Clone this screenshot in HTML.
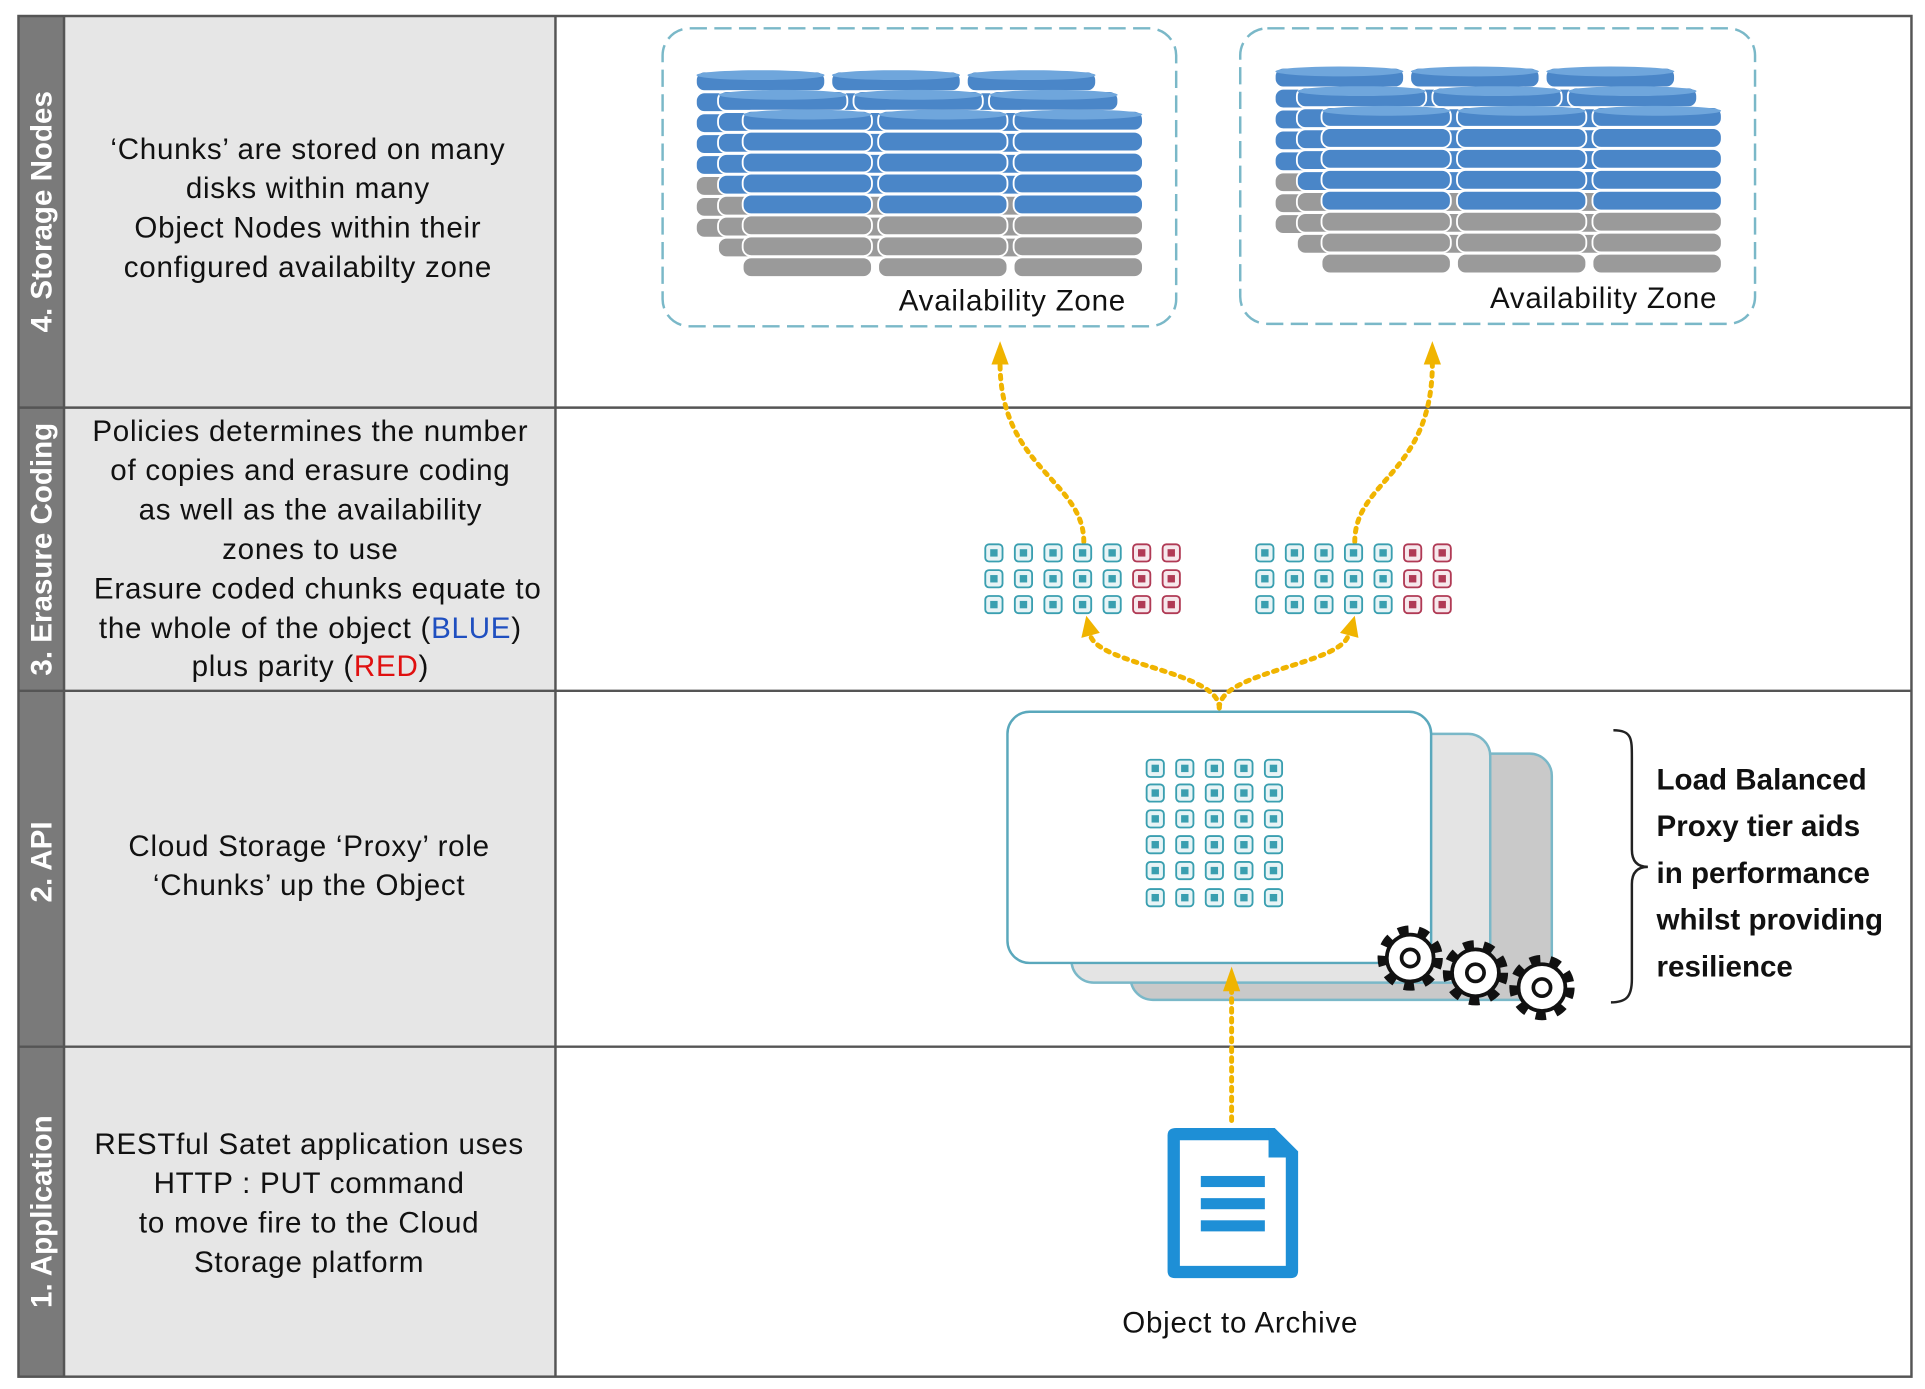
<!DOCTYPE html>
<html><head><meta charset="utf-8"><style>
html,body{margin:0;padding:0;background:#fff;}
svg{display:block;}
text{font-family:"Liberation Sans",Arial,sans-serif;}
</style></head><body>
<svg width="1925" height="1389" viewBox="0 0 1563 1128" preserveAspectRatio="none" xmlns="http://www.w3.org/2000/svg">
<defs>
<g id="stk" stroke="#fff" stroke-width="1.5">
 <rect x="0" y="0" width="105" height="16" rx="7" fill="#4a86c8"/>
 <rect x="0" y="17" width="105" height="16" rx="7" fill="#4a86c8"/>
 <rect x="0" y="34" width="105" height="16" rx="7" fill="#4a86c8"/>
 <rect x="0" y="51" width="105" height="16" rx="7" fill="#4a86c8"/>
 <rect x="0" y="68" width="105" height="16" rx="7" fill="#4a86c8"/>
 <rect x="0" y="85" width="105" height="16" rx="7" fill="#9a9a9a"/>
 <rect x="0" y="102" width="105" height="16" rx="7" fill="#9a9a9a"/>
 <rect x="0" y="119" width="105" height="16" rx="7" fill="#9a9a9a"/>
 <ellipse cx="52.5" cy="3" rx="52" ry="4" fill="#6fa6dc" stroke="none"/>
</g>
<g id="cb"><rect x="0" y="0" width="14" height="14" rx="3" fill="#e8f4f6" stroke="#3a9fb0" stroke-width="1.5"/><rect x="4" y="4" width="6" height="6" fill="#3a9fb0"/></g>
<g id="cr"><rect x="0" y="0" width="14" height="14" rx="3" fill="#f6e8ec" stroke="#b03a55" stroke-width="1.5"/><rect x="4" y="4" width="6" height="6" fill="#b03a55"/></g>
<g id="gear"><circle r="22" fill="none" stroke="#111" stroke-width="9" stroke-dasharray="8 7.7"/><circle r="19" fill="#fff" stroke="#111" stroke-width="3"/><circle r="7" fill="#fff" stroke="#111" stroke-width="3"/></g>
<g id="crow"><use href="#cb" x="0"/><use href="#cb" x="24"/><use href="#cb" x="48"/><use href="#cb" x="72"/><use href="#cb" x="96"/><use href="#cr" x="120"/><use href="#cr" x="144"/></g>
<g id="prow"><use href="#cb" x="0"/><use href="#cb" x="24"/><use href="#cb" x="48"/><use href="#cb" x="72"/><use href="#cb" x="96"/></g>
</defs>
<rect x="15" y="13" width="37" height="1105" fill="#7a7a7a"/>
<rect x="52" y="13" width="399" height="1105" fill="#e6e6e6"/>
<rect x="15" y="13" width="1537" height="1105" fill="none" stroke="#555" stroke-width="2"/>
<line x1="451" y1="13" x2="451" y2="1118" stroke="#555" stroke-width="2"/>
<line x1="52" y1="13" x2="52" y2="1118" stroke="#555" stroke-width="2"/>
<g stroke="#555" stroke-width="2"><line x1="15" y1="331" x2="1552" y2="331"/><line x1="15" y1="561" x2="1552" y2="561"/><line x1="15" y1="850" x2="1552" y2="850"/></g>
<g fill="#fff" font-weight="bold" font-size="24" text-anchor="middle">
<text transform="translate(42,172) rotate(-90)">4. Storage Nodes</text>
<text transform="translate(42,446) rotate(-90)">3. Erasure Coding</text>
<text transform="translate(42,700) rotate(-90)">2. API</text>
<text transform="translate(42,984) rotate(-90)">1. Application</text>
</g>
<g font-size="24" fill="#111" text-anchor="middle" letter-spacing="0.6">
<text x="250" y="129">‘Chunks’ are stored on many</text>
<text x="250" y="161">disks within many</text>
<text x="250" y="193">Object Nodes within their</text>
<text x="250" y="225">configured availabilty zone</text>
<text x="252" y="358">Policies determines the number</text>
<text x="252" y="390">of copies and erasure coding</text>
<text x="252" y="422">as well as the availability</text>
<text x="252" y="454">zones to use</text>
<text x="258" y="486">Erasure coded chunks equate to</text>
<text x="252" y="518">the whole of the object (<tspan fill="#1f4fc0">BLUE</tspan>)</text>
<text x="252" y="549">plus parity (<tspan fill="#e01010">RED</tspan>)</text>
<text x="251" y="695">Cloud Storage ‘Proxy’ role</text>
<text x="251" y="727">‘Chunks’ up the Object</text>
<text x="251" y="937">RESTful Satet application uses</text>
<text x="251" y="969">HTTP : PUT command</text>
<text x="251" y="1001">to move fire to the Cloud</text>
<text x="251" y="1033">Storage platform</text>
</g>
<rect x="538" y="23" width="417" height="242" rx="22" fill="none" stroke="#7ab8c8" stroke-width="2" stroke-dasharray="14 6"/>
<rect x="1007" y="23" width="418" height="240" rx="22" fill="none" stroke="#7ab8c8" stroke-width="2" stroke-dasharray="14 6"/>
<use href="#stk" x="565" y="58"/><use href="#stk" x="675" y="58"/><use href="#stk" x="785" y="58"/>
<use href="#stk" x="583" y="74"/><use href="#stk" x="693" y="74"/><use href="#stk" x="803" y="74"/>
<use href="#stk" x="603" y="90"/><use href="#stk" x="713" y="90"/><use href="#stk" x="823" y="90"/>
<use href="#stk" x="1035" y="55"/><use href="#stk" x="1145" y="55"/><use href="#stk" x="1255" y="55"/>
<use href="#stk" x="1053" y="71"/><use href="#stk" x="1163" y="71"/><use href="#stk" x="1273" y="71"/>
<use href="#stk" x="1073" y="87"/><use href="#stk" x="1183" y="87"/><use href="#stk" x="1293" y="87"/>
<g font-size="24" fill="#111" text-anchor="middle" letter-spacing="0.6">
<text x="822" y="252">Availability Zone</text>
<text x="1302" y="250">Availability Zone</text>
<text x="1007" y="1082">Object to Archive</text>
</g>
<g fill="none" stroke="#f0b400" stroke-width="4" stroke-dasharray="3 5" stroke-linecap="round">
<path d="M880,440 C880,390 812,380 812,295"/>
<path d="M1100,440 C1100,390 1163,385 1163,295"/>
<path d="M990,575 C990,545 890,540 885,515"/>
<path d="M990,575 C990,545 1090,540 1095,515"/>
</g>
<g fill="#f0b400">
<polygon points="812,277 805,296 819,296"/>
<polygon points="1163,277 1156,296 1170,296"/>
<polygon points="882,500 878,518 893,514"/>
<polygon points="1100,500 1088,514 1103,518"/>
</g>
<use href="#crow" x="800" y="442"/><use href="#crow" x="800" y="463"/><use href="#crow" x="800" y="484"/>
<use href="#crow" x="1020" y="442"/><use href="#crow" x="1020" y="463"/><use href="#crow" x="1020" y="484"/>
<rect x="918" y="612" width="342" height="200" rx="18" fill="#c9c9c9" stroke="#7ab8c8" stroke-width="2"/>
<rect x="870" y="596" width="340" height="202" rx="18" fill="#e4e4e4" stroke="#7ab8c8" stroke-width="2"/>
<rect x="818" y="578" width="344" height="204" rx="18" fill="#fff" stroke="#5aa8bc" stroke-width="2"/>
<use href="#prow" x="931" y="617"/><use href="#prow" x="931" y="637"/><use href="#prow" x="931" y="658"/>
<use href="#prow" x="931" y="679"/><use href="#prow" x="931" y="700"/><use href="#prow" x="931" y="722"/>
<path d="M1000,910 L1000,800" fill="none" stroke="#f0b400" stroke-width="4" stroke-dasharray="3 5" stroke-linecap="round"/>
<polygon points="1000,785 993,805 1007,805" fill="#f0b400"/>
<use href="#gear" x="1145" y="778"/><use href="#gear" x="1198" y="790"/><use href="#gear" x="1252" y="802"/>
<path d="M1310,593 C1325,593 1325,600 1325,615 L1325,690 C1325,700 1330,704 1338,704 C1330,704 1325,708 1325,718 L1325,795 C1325,810 1320,814 1308,814" fill="none" stroke="#222" stroke-width="2"/>
<g font-size="24" font-weight="bold" fill="#111">
<text x="1345" y="641">Load Balanced</text>
<text x="1345" y="679">Proxy tier aids</text>
<text x="1345" y="717">in performance</text>
<text x="1345" y="755">whilst providing</text>
<text x="1345" y="793">resilience</text>
</g>
<path d="M955,916 L1035,916 L1054,935 L1054,1032 Q1054,1038 1048,1038 L954,1038 Q948,1038 948,1032 L948,922 Q948,916 955,916 Z" fill="#1e8fd6"/>
<path d="M958,926 L1030,926 L1044,940 L1044,1028 L958,1028 Z" fill="#fff"/>
<path d="M1030,916 L1030,940 L1054,940 Z" fill="#1e8fd6"/>
<g fill="#1e8fd6"><rect x="975" y="955" width="52" height="9"/><rect x="975" y="973" width="52" height="9"/><rect x="975" y="991" width="52" height="9"/></g>
</svg>
</body></html>
